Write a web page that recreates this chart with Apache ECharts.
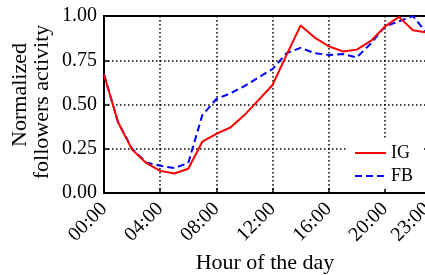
<!DOCTYPE html>
<html>
<head>
<meta charset="utf-8">
<script src="https://cdn.jsdelivr.net/npm/echarts@6/dist/echarts.min.js"></script>
<style>
html, body { margin: 0; padding: 0; background: #fff; }
#main { width: 425px; height: 275px; }
</style>
</head>
<body>
<div id="main"></div>
<script>
// hours 0..23
var hours = [0,1,2,3,4,5,6,7,8,9,10,11,12,13,14,15,16,17,18,19,20,21,22,23];
var igValues = [0.67,0.40,0.245,0.17,0.125,0.11,0.137,0.29,0.334,0.37,0.44,0.525,0.61,0.78,0.947,0.878,0.829,0.80,0.81,0.859,0.94,0.995,0.919,0.906];
var fbValues = [0.67,0.40,0.25,0.173,0.154,0.141,0.169,0.44,0.531,0.563,0.604,0.653,0.70,0.79,0.82,0.79,0.78,0.785,0.766,0.844,0.94,0.97,1.0,0.90];
var yTitle = ['Normalized', 'followers activity'];
var xTitle = 'Hour of the day';

var font = 'Liberation Serif';
var titleFont = '22px "Liberation Serif"';

function pairs(vals){
	var out = [];
	for(var i = 0; i < hours.length; i++){
		out.push([hours[i], vals[i]]);
	}
	return out;
}

var option = {
	animation: false,
	textStyle: {fontFamily: font, color: '#000'},
	grid: {
		left: 104, right: -2, top: 16, bottom: 82,
		outerBoundsMode: 'none',
		containLabel: false,
		show: true, borderColor: '#000', borderWidth: 2
	},
	// axis titles
	graphic: [{
		type: 'text', x: 20, y: 95, rotation: Math.PI / 2,
		style: {text: yTitle[0], font: titleFont, fill: '#000', align: 'center', verticalAlign: 'middle'}
	},{
		type: 'text', x: 42, y: 102, rotation: Math.PI / 2,
		style: {text: yTitle[1], font: titleFont, fill: '#000', align: 'center', verticalAlign: 'middle'}
	},{
		type: 'text', x: 265, y: 263,
		style: {text: xTitle, font: titleFont, fill: '#000', align: 'center', verticalAlign: 'middle'}
	}],
	legend: {
		orient: 'vertical',
		right: 2, top: 140,
		itemWidth: 31, itemHeight: 10, itemGap: 5,
		backgroundColor: '#fff',
		padding: [4, 10, 4, 7],
		itemStyle: {opacity: 0},
		textStyle: {fontFamily: font, fontSize: 18, color: '#000'},
		data: ['IG', 'FB']
	},
	xAxis: {
		type: 'value',
		min: 0, max: 23, interval: 4,
		axisLine: {show: true, lineStyle: {color: '#000', width: 2}},
		axisTick: {show: true, inside: true, length: 5, lineStyle: {color: '#000', width: 1.5}},
		axisLabel: {
			rotate: 45, margin: 13,
			showMaxLabel: true,
			fontFamily: font, fontSize: 20, color: '#000',
			formatter: function(v){
				return (v < 10 ? '0' : '') + v + ':00';
			}
		},
		splitLine: {show: true, lineStyle: {color: '#000', width: 1.5, type: [1.5, 2.5]}}
	},
	yAxis: {
		type: 'value',
		min: 0, max: 1, interval: 0.25,
		axisLine: {show: true, lineStyle: {color: '#000', width: 2}},
		axisTick: {show: true, inside: true, length: 5, lineStyle: {color: '#000', width: 1.5}},
		axisLabel: {
			margin: 7, fontFamily: font, fontSize: 20, color: '#000',
			formatter: function(v){ return v.toFixed(2); }
		},
		splitLine: {show: true, lineStyle: {color: '#000', width: 1.5, type: [1.5, 2.5]}}
	},
	series: [{
		name: 'IG',
		type: 'line',
		data: pairs(igValues),
		symbol: 'none',
		lineStyle: {color: '#ff0000', width: 2},
		itemStyle: {color: '#ff0000'},
		z: 3
	},{
		name: 'FB',
		type: 'line',
		data: pairs(fbValues),
		symbol: 'none',
		lineStyle: {color: '#0000ff', width: 2, type: [7, 4]},
		itemStyle: {color: '#0000ff'},
		z: 2
	}]
};

var myChart = echarts.init(document.getElementById('main'));
myChart.setOption(option);
</script>
</body>
</html>
